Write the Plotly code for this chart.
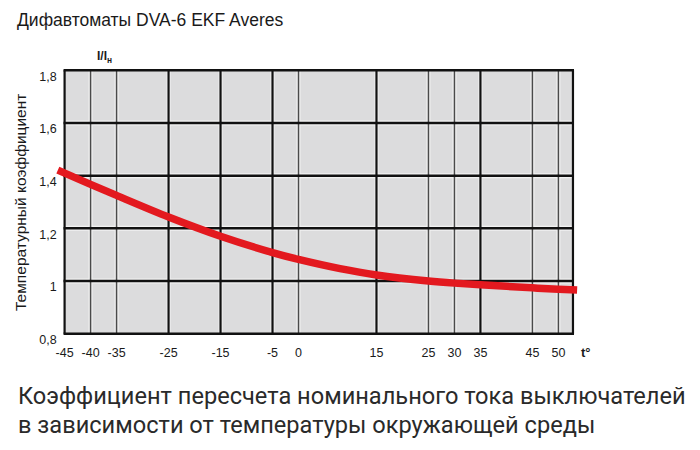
import plotly.graph_objects as go

# ---- data ----
temps = [-46.3, -40, -35, -25, -15, -5, 0, 8, 15, 25, 30, 35, 45, 50, 53.6]
coef = [1.421, 1.367, 1.325, 1.243, 1.170, 1.108, 1.082, 1.047, 1.023, 1.000, 0.992, 0.986, 0.974, 0.969, 0.966]

x_tick_vals = [-45, -40, -35, -25, -15, -5, 0, 15, 25, 30, 35, 45, 50]
x_tick_text = ["-45", "-40", "-35", "-25", "-15", "-5", "0", "15", "25", "30", "35", "45", "50"]
y_tick_vals = [0.8, 1.0, 1.2, 1.4, 1.6, 1.8]
y_tick_text = ["0,8", "1", "1,2", "1,4", "1,6", "1,8"]

thick_x = [-25, -15, -5, 15, 35]
thin_x = [-40, -35, 0, 25, 30, 45, 50]
grid_y = [1.0, 1.2, 1.4, 1.6]
box_x = [-45, 52.8]
box_y = [0.8, 1.8]

title_text = "Дифавтоматы DVA-6 EKF Averes"
y_title = "Температурный коэффициент"
caption1 = "Коэффициент пересчета номинального тока выключателей"
caption2 = "в зависимости от температуры окружающей среды"

# ---- layout geometry (page body has an 8px margin) ----
OFF = 8
W, H = 700 - OFF, 450 - OFF
ML, MR, MT, MB = 49 - OFF, 113, 69 - OFF, 115
PW, PH = W - ML - MR, H - MT - MB


def px_x(p):
    return (p - OFF - ML) / PW


def px_y(p):
    return (H - MB - (p - OFF)) / PH


sans = "Liberation Sans, Arial, sans-serif"
cap_font = "Roboto, sans-serif"

fig = go.Figure()
fig.add_trace(go.Scatter(
    x=temps, y=coef, mode="lines",
    line=dict(color="#E3191F", width=7.5, shape="spline", smoothing=0.9),
    hoverinfo="skip", showlegend=False,
))

shapes = []
shapes.append(dict(type="rect", xref="x", yref="y", x0=box_x[0], x1=box_x[1], y0=box_y[0], y1=box_y[1],
                   fillcolor="#DCDCDD", line=dict(width=0), layer="below"))
for xv in thick_x + thin_x:
    shapes.append(dict(type="line", xref="x", yref="y", x0=xv, x1=xv, y0=box_y[0], y1=box_y[1],
                       line=dict(color="#F2F2F2", width=4), layer="below"))
for yv in grid_y:
    shapes.append(dict(type="line", xref="x", yref="y", x0=box_x[0], x1=box_x[1], y0=yv, y1=yv,
                       line=dict(color="#F2F2F2", width=5), layer="below"))
for xv in thin_x:
    shapes.append(dict(type="line", xref="x", yref="y", x0=xv, x1=xv, y0=box_y[0], y1=box_y[1],
                       line=dict(color="#4a4a4a", width=1.5), layer="below"))
for xv in thick_x + box_x:
    shapes.append(dict(type="line", xref="x", yref="y", x0=xv, x1=xv, y0=box_y[0], y1=box_y[1],
                       line=dict(color="#111111", width=2.2), layer="below"))
for yv in grid_y + box_y:
    shapes.append(dict(type="line", xref="x", yref="y", x0=box_x[0] - 0.2, x1=box_x[1] + 0.2, y0=yv, y1=yv,
                       line=dict(color="#111111", width=2.5), layer="below"))

annotations = [
    dict(text=y_title, xref="paper", yref="paper", x=px_x(20), y=px_y(203), textangle=-90,
         showarrow=False, xanchor="center", yanchor="middle",
         font=dict(family=sans, size=15.5, color="#1a1a1a")),
    dict(text="<b>I/I<sub>н</sub></b>", xref="x", yref="paper", x=-37.3, y=px_y(57),
         showarrow=False, xanchor="center", yanchor="middle",
         font=dict(family=sans, size=12, color="#1a1a1a")),
    dict(text="<b>t°</b>", xref="x", yref="paper", x=55.3, y=px_y(352),
         showarrow=False, xanchor="center", yanchor="middle",
         font=dict(family=sans, size=13, color="#1a1a1a")),
    dict(text=caption1, xref="paper", yref="paper", x=px_x(16), y=px_y(396),
         showarrow=False, xanchor="left", yanchor="middle",
         font=dict(family=cap_font, size=23.6, color="#2a2a2a")),
    dict(text=caption2, xref="paper", yref="paper", x=px_x(16), y=px_y(425),
         showarrow=False, xanchor="left", yanchor="middle",
         font=dict(family=cap_font, size=23.6, color="#2a2a2a")),
]

fig.update_layout(
    width=W, height=H,
    margin=dict(l=ML, r=MR, t=MT, b=MB, autoexpand=False),
    paper_bgcolor="white", plot_bgcolor="white",
    title=dict(text=title_text, x=(17 - OFF) / W, xanchor="left", xref="container",
               y=1 - (20 - OFF) / H, yanchor="middle", yref="container",
               font=dict(family=sans, size=17.5, color="#1a1a1a")),
    shapes=shapes, annotations=annotations,
    xaxis=dict(range=[-48, 55.5], showgrid=False, zeroline=False, showline=False,
               tickmode="array", tickvals=x_tick_vals, ticktext=x_tick_text,
               ticks="", ticklabelstandoff=8,
               tickfont=dict(family=sans, size=12.5, color="#1a1a1a")),
    yaxis=dict(range=[0.795, 1.805], showgrid=False, zeroline=False, showline=False,
               anchor="free", position=(64.6 - OFF - ML) / PW,
               tickmode="array", tickvals=y_tick_vals, ticktext=y_tick_text,
               ticks="", ticklabelstandoff=8, ticklabelshift=6,
               tickfont=dict(family=sans, size=12.5, color="#1a1a1a")),
)

fig.write_html("out.html")
